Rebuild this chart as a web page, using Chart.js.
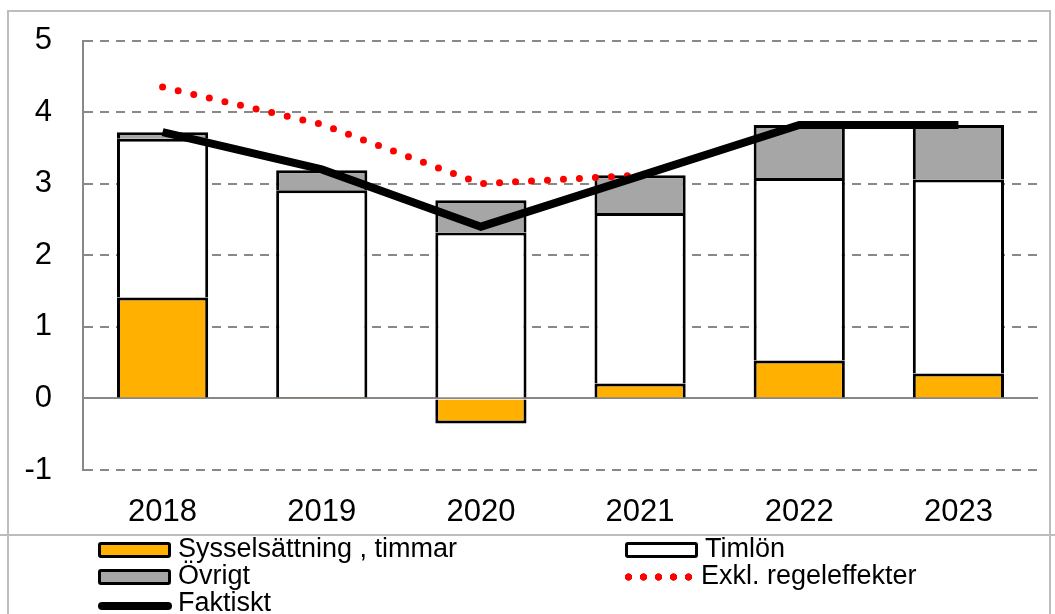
<!DOCTYPE html>
<html>
<head>
<meta charset="utf-8">
<script src="https://cdn.jsdelivr.net/npm/chart.js@4"></script>
<style>
  body { margin: 0; background: #fff; font-family: "Liberation Sans", Arial, sans-serif; }
  #wrap { position: relative; width: 1055px; height: 614px; overflow: hidden; }
  #frame { position: absolute; left: 7px; top: 10px; width: 1040px; height: 700px;
           border-left: 2px solid #bdbdbd; border-top: 2px solid #bdbdbd; border-right: 2px solid #bdbdbd; }
  #sep { position: absolute; left: 0; top: 534px; width: 1055px; height: 2px; background: #bdbdbd; }
  #c { position: absolute; left: 0; top: -9px; }
  .lg { position: absolute; font-size: 27px; line-height: 27px; color: #000; white-space: nowrap; }
  .sym { position: absolute; box-sizing: border-box; }
</style>
</head>
<body>
<div id="wrap">
  <div id="frame"></div>
  <div id="sep"></div>
  <canvas id="c" width="1055" height="544"></canvas>
  <div id="legend"></div>
</div>
<script>
const years = ['2018', '2019', '2020', '2021', '2022', '2023'];
const sysselsattning = [1.41, 0.02, -0.35, 0.21, 0.53, 0.35];
const timlon = [2.22, 2.89, 2.32, 2.38, 2.55, 2.71];
const ovrigt = [0.09, 0.28, 0.45, 0.53, 0.74, 0.76];
const faktiskt = [3.72, 3.20, 2.40, 3.11, 3.82, 3.82];
const exklRegel = [4.35, 3.83, 3.00, 3.12, null, null];
const yTicks = [-1, 0, 1, 2, 3, 4, 5];

const orange = '#ffb000';
const grey = '#a6a6a6';

const ctx = document.getElementById('c').getContext('2d');
const chart = new Chart(ctx, {
  data: {
    labels: years,
    datasets: [
      { type: 'bar', label: 'Sysselsättning , timmar', data: sysselsattning, backgroundColor: orange,
        borderColor: '#000', borderWidth: 3, stack: 'bars', order: 3 },
      { type: 'bar', label: 'Timlön', data: timlon, backgroundColor: '#fff',
        borderColor: '#000', borderWidth: 3, stack: 'bars', order: 3 },
      { type: 'bar', label: 'Övrigt', data: ovrigt, backgroundColor: grey,
        borderColor: '#000', borderWidth: 3, stack: 'bars', order: 3 },
      { type: 'line', label: 'Exkl. regeleffekter', data: exklRegel, borderColor: '#ff0000',
        borderWidth: 7, borderDash: [0, 16], borderCapStyle: 'round', pointRadius: 0,
        tension: 0, stack: 'exkl', order: 2 },
      { type: 'line', label: 'Faktiskt', data: faktiskt, borderColor: '#000',
        borderWidth: 8, pointRadius: 0, tension: 0, stack: 'fakt', order: 1 }
    ]
  },
  options: {
    responsive: false,
    animation: false,
    layout: { padding: { left: 0, right: 17, top: 0, bottom: 0 } },
    plugins: { legend: { display: false }, tooltip: { enabled: false } },
    scales: {
      x: {
        stacked: true,
        grid: { display: false },
        border: { display: false },
        ticks: { color: '#000', font: { family: 'Liberation Sans', size: 31 }, padding: 16 },
        afterFit: s => { s.height = 65; }
      },
      y: {
        stacked: true,
        min: -1, max: 5,
        afterBuildTicks: s => { s.ticks = yTicks.map(v => ({ value: v })); },
        grid: { color: '#888888', lineWidth: 2, drawTicks: false },
        border: { display: true, color: '#888888', width: 2,
                  dash: c => (c.tick && c.tick.value === 0) ? [] : [9, 7] },
        ticks: { color: '#000', font: { family: 'Liberation Sans', size: 31 }, padding: 31 },
        afterFit: s => { s.width = 83; }
      }
    },
    datasets: { bar: { categoryPercentage: 1, barPercentage: 0.573 } }
  }
});

// legend in two columns below the chart
const legendItems = [
  { i: 0, x: 98, y: 535, kind: 'box' },
  { i: 1, x: 625, y: 535, kind: 'box' },
  { i: 2, x: 98, y: 562, kind: 'box' },
  { i: 3, x: 621, y: 562, kind: 'dots' },
  { i: 4, x: 98, y: 589, kind: 'line' }
];
const lg = document.getElementById('legend');
legendItems.forEach(it => {
  const ds = chart.data.datasets[it.i];
  const sym = document.createElement('div');
  sym.className = 'sym';
  if (it.kind === 'box') {
    Object.assign(sym.style, { left: it.x + 'px', top: (it.y + 7) + 'px', width: '73px', height: '16px',
      background: ds.backgroundColor, border: '3px solid #000', borderRadius: '3px' });
  } else if (it.kind === 'line') {
    Object.assign(sym.style, { left: it.x + 'px', top: (it.y + 13) + 'px', width: '74px', height: '8px',
      background: ds.borderColor, borderRadius: '4px' });
  } else {
    Object.assign(sym.style, { left: it.x + 'px', top: (it.y + 11) + 'px', width: '74px', height: '8px',
      background: 'radial-gradient(circle, ' + ds.borderColor + ' 3.4px, transparent 4px) 0 0 / 15px 8px repeat-x' });
  }
  lg.appendChild(sym);
  const t = document.createElement('div');
  t.className = 'lg';
  t.textContent = ds.label;
  t.style.left = (it.x + 80) + 'px';
  t.style.top = it.y + 'px';
  lg.appendChild(t);
});
</script>
</body>
</html>
